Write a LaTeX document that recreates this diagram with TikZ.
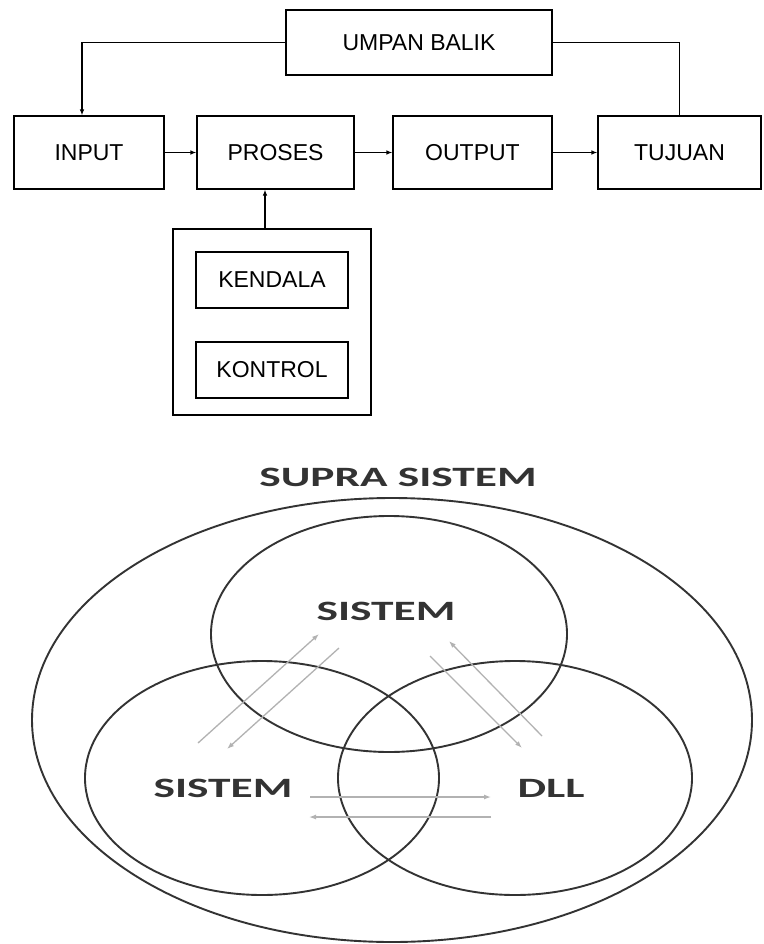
\documentclass[tikz,border=0pt]{standalone}
\usepackage{fontspec}
\usepackage{graphicx}
\setmainfont{Liberation Sans}
\newfontfamily\venfont{Carlito}
\usetikzlibrary{arrows.meta}
\tikzset{
  box/.style={draw=black, line width=1.1pt, fill=white, inner sep=0pt,
    font=\fontsize{23}{26}\selectfont},
  arr/.style={line width=1.1pt, -{Latex[length=6pt,width=4.5pt]}},
  plain/.style={line width=1.1pt},
  venn/.style={draw=black!80, line width=1.9pt},
  vlabel/.style={font=\venfont\bfseries\fontsize{28}{30}\selectfont, text=black!80, inner sep=0pt},
  garr/.style={draw=black!30, line width=1.3pt, -{Latex[length=7pt,width=5pt]}}
}
\begin{document}
\begin{tikzpicture}[x=1pt,y=-1pt]
\useasboundingbox[fill=white] (0,0) rectangle (763,944);
% top block diagram
\node[box, minimum width=266pt, minimum height=65pt] (ub) at (419,42.5) {UMPAN BALIK};
\node[box, minimum width=150pt, minimum height=73pt] (in) at (89,152.5) {INPUT};
\node[box, minimum width=157pt, minimum height=73pt] (pr) at (275.5,152.5) {PROSES};
\node[box, minimum width=159pt, minimum height=73pt] (ou) at (472.5,152.5) {OUTPUT};
\node[box, minimum width=163pt, minimum height=73pt] (tj) at (679.5,152.5) {TUJUAN};
\node[box, minimum width=198pt, minimum height=186pt] (ob) at (272,322) {};
\node[box, minimum width=152pt, minimum height=56pt] (ke) at (272,280) {KENDALA};
\node[box, minimum width=152pt, minimum height=56pt] (ko) at (272,370) {KONTROL};
\draw[arr] (in.east) -- (pr.west);
\draw[arr] (pr.east) -- (ou.west);
\draw[arr] (ou.east) -- (tj.west);
\draw[arr] (ub.west) -| ([xshift=-7pt]in.north);
\draw[plain] (ub.east) -| (tj.north);
\draw[arr] ([xshift=-7pt]ob.north) -- ([xshift=-7pt]ob.north |- pr.south);
% Venn diagram
\node[vlabel] (supra) at (398,477) {\scalebox{1.62}[1]{SUPRA SISTEM}};
\draw[venn] (392,720) ellipse [x radius=360, y radius=222];
\draw[venn] (389,634) ellipse [x radius=178, y radius=118];
\draw[venn] (262,778) ellipse [x radius=177, y radius=117];
\draw[venn] (515,778) ellipse [x radius=177, y radius=117];
\node[vlabel] (st) at (386,611) {\scalebox{1.62}[1]{SISTEM}};
\node[vlabel] (sl) at (223,788) {\scalebox{1.62}[1]{SISTEM}};
\node[vlabel] (dl) at (551,788) {\scalebox{1.62}[1]{DLL}};
\coordinate (a1s) at (198,743); \coordinate (a1e) at (319,634);
\coordinate (a2s) at (339,648); \coordinate (a2e) at (227,749);
\coordinate (a3s) at (430,656); \coordinate (a3e) at (522,748);
\coordinate (a4s) at (542,736); \coordinate (a4e) at (449,641);
\coordinate (a5s) at (310,797); \coordinate (a5e) at (491,797);
\coordinate (a6s) at (491,817); \coordinate (a6e) at (309,817);
\draw[garr] (a1s) -- (a1e);
\draw[garr] (a2s) -- (a2e);
\draw[garr] (a3s) -- (a3e);
\draw[garr] (a4s) -- (a4e);
\draw[garr] (a5s) -- (a5e);
\draw[garr] (a6s) -- (a6e);
\end{tikzpicture}
\end{document}
